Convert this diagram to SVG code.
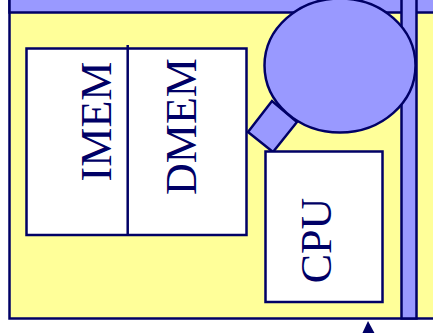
<svg xmlns="http://www.w3.org/2000/svg" width="433" height="333" viewBox="0 0 433 333">
<style>
.ln{stroke:#000066;stroke-width:2.5}
.yl{fill:#ffff99}
.pu{fill:#9999ff}
.wh{fill:#ffffff}
.lbl{font-family:"Liberation Serif","Times New Roman",serif;font-size:44px;fill:#000066;text-anchor:middle}
</style>
<rect width="433" height="333" fill="#ffffff"/>
<g id="board">
<rect class="yl ln" x="9.5" y="-10" width="440" height="328.5"/>
<rect class="pu ln" x="9.5" y="-10" width="440" height="22.5"/>
<rect class="pu ln" x="401.5" y="-10" width="15" height="328.5"/>
</g>
<g id="mem">
<rect class="wh ln" x="26.5" y="48.5" width="220" height="186.5"/>
<line class="ln" x1="127.7" y1="45" x2="127.7" y2="236"/>
<text class="lbl" transform="translate(110.5,121.5) rotate(-90)">IMEM</text>
<text class="lbl" transform="translate(195.5,126.5) rotate(-90)">DMEM</text>
</g>
<g id="neck">
<polygon class="pu ln" points="248,132 273,152 297,122 272,101"/>
</g>
<g id="bubble">
<ellipse class="pu ln" cx="340" cy="65.5" rx="75.5" ry="67"/>
</g>
<g id="cpu">
<rect class="wh ln" x="265.5" y="151.5" width="117" height="150.5"/>
<text class="lbl" transform="translate(331,240.5) rotate(-90)">CPU</text>
</g>
<g id="connectors">
<polygon points="368,321 362,334 375,334" fill="#000066"/>
</g>
</svg>
